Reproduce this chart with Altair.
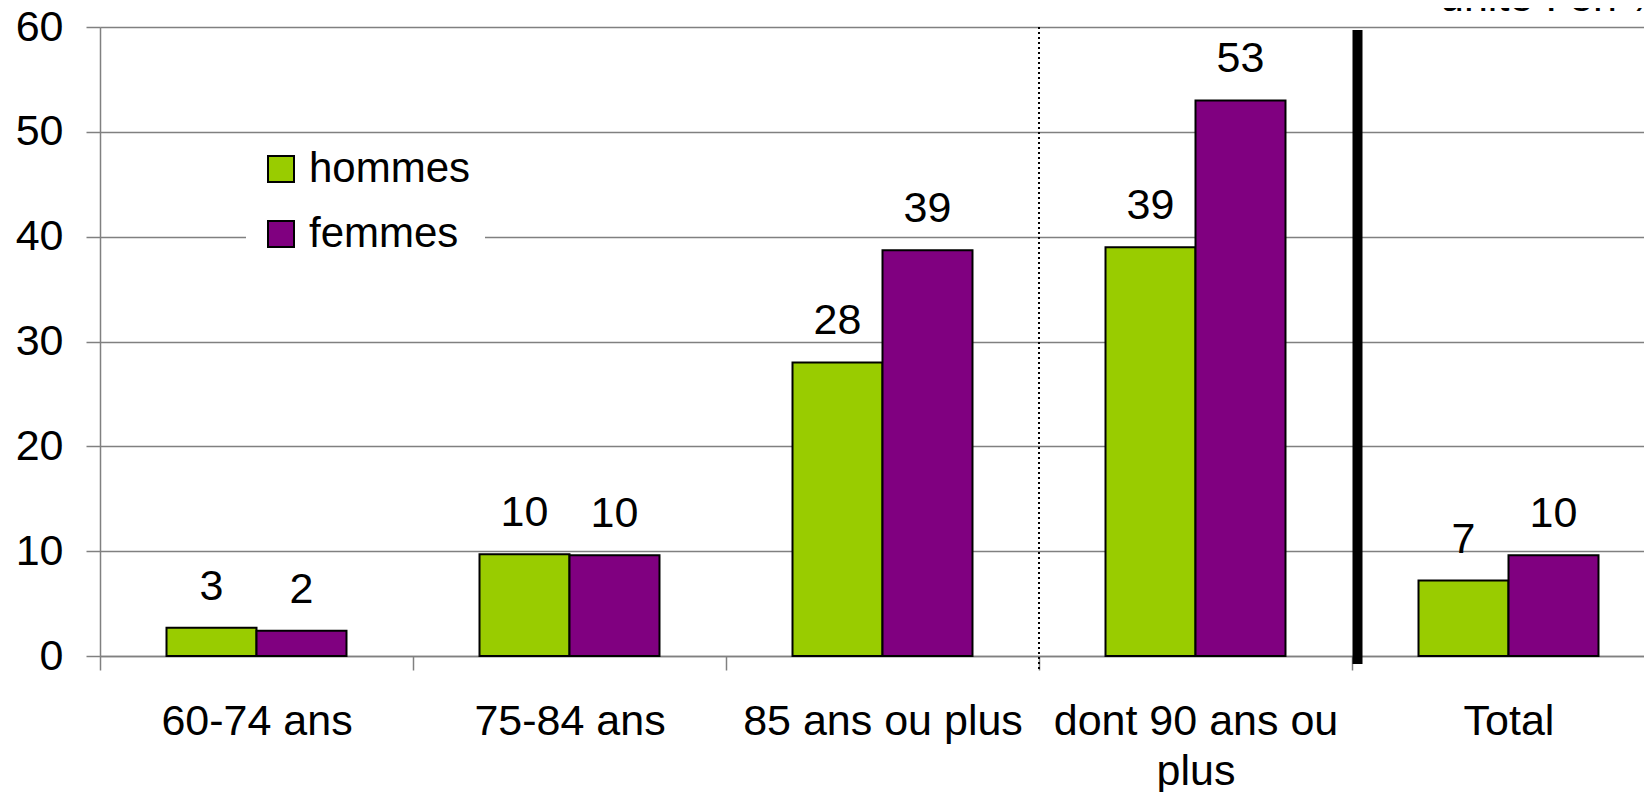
import altair as alt
import pandas as pd

categories = ["60-74 ans", "75-84 ans", "85 ans ou plus", "dont 90 ans ou plus", "Total"]
series = ["hommes", "femmes"]
hommes = [2.7, 9.7, 28.0, 39.0, 7.2]
femmes = [2.4, 9.6, 38.7, 53.0, 9.6]
colors = ["#99CC00", "#800080"]
y_ticks = [0, 10, 20, 30, 40, 50, 60]
unit_label = ["unité : en %"]
dotted_sep = ["dont 90 ans ou plus"]
thick_sep = ["Total"]

rows = []
for c, h, f in zip(categories, hommes, femmes):
    rows.append({"cat": c, "sexe": "hommes", "val": h})
    rows.append({"cat": c, "sexe": "femmes", "val": f})
df = pd.DataFrame(rows)

FONT = "Liberation Sans"
W = 1544
H = 629
GRID = "#808080"

xscale = alt.Scale(domain=categories, range=[0, 1565], paddingInner=0, paddingOuter=0)
xaxis = alt.Axis(
    title=None, labelAngle=0, labelFontSize=43, labelFont=FONT, labelColor="black",
    tickSize=14, tickColor=GRID, tickWidth=1.5, domainColor=GRID, domainWidth=1.5,
    tickBand="extent", labelPadding=30, labelLimit=0, labelLineHeight=50,
    labelExpr="datum.value == 'dont 90 ans ou plus' ? ['dont 90 ans ou', 'plus'] : datum.label",
)
yaxis = alt.Axis(
    values=y_ticks, title=None, grid=True, gridColor=GRID, gridWidth=1.5,
    labelFontSize=43, labelFont=FONT, labelColor="black", tickSize=14,
    tickColor=GRID, tickWidth=1.5, domainColor=GRID, domainWidth=1.5, labelPadding=23,
)

x = alt.X("cat:N", scale=xscale, sort=categories, axis=xaxis)
y = alt.Y("val:Q", scale=alt.Scale(domain=[0, 60], nice=False), axis=yaxis)
xoff = alt.XOffset("sexe:N", sort=series,
                   scale=alt.Scale(domain=series, paddingInner=0, paddingOuter=0.739))

bars = alt.Chart(df).mark_bar(stroke="black", strokeWidth=2).encode(
    x=x, y=y, xOffset=xoff,
    color=alt.Color("sexe:N", sort=series,
                    scale=alt.Scale(domain=series, range=colors),
                    legend=alt.Legend(
                        title=None, orient="none", legendX=146, legendY=107,
                        fillColor="white", padding=14, symbolType="square",
                        symbolSize=676, symbolStrokeColor="black", symbolStrokeWidth=2,
                        labelFontSize=42, labelFont=FONT, labelColor="black",
                        labelLimit=0, rowPadding=23, labelOffset=7,
                    )),
)

labels = alt.Chart(df).mark_text(baseline="alphabetic", dy=-28, fontSize=43, font=FONT,
                                 color="black").encode(
    x=x, y=y, xOffset=xoff, text=alt.Text("val:Q", format=".0f"),
)

dotted = alt.Chart(pd.DataFrame({"cat": dotted_sep})).mark_rule(
    color="black", strokeWidth=2, strokeDash=[2, 3]).encode(
    x=alt.X("cat:N", scale=xscale, sort=categories, axis=xaxis, bandPosition=0),
    y=alt.value(0), y2=alt.value(H + 14),
)

thick = alt.Chart(pd.DataFrame({"cat": thick_sep})).mark_rule(
    color="black", strokeWidth=10, xOffset=5.5).encode(
    x=alt.X("cat:N", scale=xscale, sort=categories, axis=xaxis, bandPosition=0),
    y=alt.value(3), y2=alt.value(H + 8),
)

unit = alt.Chart(pd.DataFrame({"t": unit_label})).mark_text(
    align="left", baseline="alphabetic", fontSize=43, font=FONT, color="black").encode(
    text="t:N", x=alt.value(1340), y=alt.value(-16),
)

chart = alt.layer(bars, labels, dotted, thick, unit).properties(
    width=W, height=H,
    autosize=alt.AutoSizeParams(type="none"),
    padding={"left": 92, "top": 19, "right": 0, "bottom": 136},
).configure_view(stroke=None).configure(font=FONT)

chart.save("out.html", embed_options={"renderer": "svg", "actions": False})
